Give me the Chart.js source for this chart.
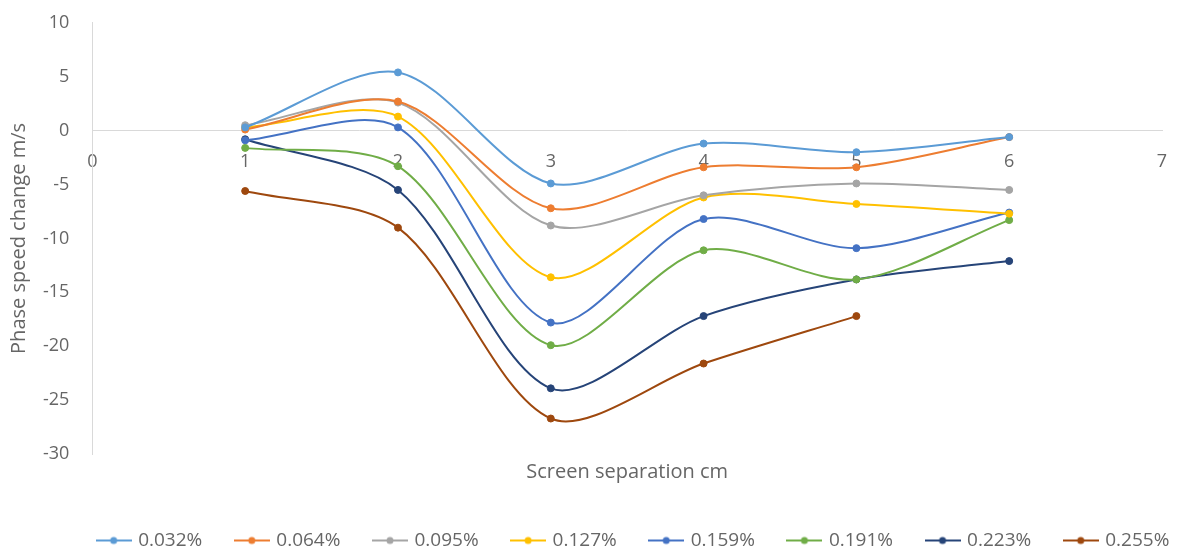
<!DOCTYPE html>
<html>
<head>
    <title>Phase speed change vs screen separation</title>
    <script src="https://cdn.jsdelivr.net/npm/chart.js"></script>
    <style>
        html, body {
            margin: 0;
            padding: 0;
            background: #fff;
        }
        canvas {
            display: block;
        }
    </style>
</head>
<body>
    <canvas id="chart" width="1179" height="554"></canvas>

    <script>
        // Screen separation (cm)
        const separations = [1, 2, 3, 4, 5, 6];

        // Phase speed change (m/s) per concentration
        const seriesNames = ['0.032%', '0.064%', '0.095%', '0.127%', '0.159%', '0.191%', '0.223%', '0.255%'];
        const s032 = [0.3, 5.4, -4.9, -1.2, -2.0, -0.6];
        const s064 = [0.1, 2.7, -7.2, -3.4, -3.4, -0.6];
        const s095 = [0.5, 2.6, -8.8, -6.0, -4.9, -5.5];
        const s127 = [0.3, 1.3, -13.6, -6.2, -6.8, -7.7];
        const s159 = [-0.9, 0.3, -17.8, -8.2, -10.9, -7.6];
        const s191 = [-1.6, -3.3, -19.9, -11.1, -13.8, -8.3];
        const s223 = [-0.8, -5.5, -23.9, -17.2, -13.8, -12.1];
        const s255 = [-5.6, -9.0, -26.7, -21.6, -17.2];

        const yTicks = [-30, -25, -20, -15, -10, -5, 0, 5, 10];
        const xTicks = [0, 1, 2, 3, 4, 5, 6, 7];

        const colors = ['#5B9BD5', '#ED7D31', '#A5A5A5', '#FFC000', '#4472C4', '#70AD47', '#264478', '#9E480E'];
        const allSeries = [s032, s064, s095, s127, s159, s191, s223, s255];
        const textColor = '#666666';
        const fontFamily = '"Open Sans", sans-serif';

        // legend marker: short line with a dot in the middle
        function legendMarker(color) {
            const c = document.createElement('canvas');
            c.width = 36;
            c.height = 10;
            const g = c.getContext('2d');
            g.strokeStyle = color;
            g.lineWidth = 2;
            g.beginPath();
            g.moveTo(0, 5);
            g.lineTo(36, 5);
            g.stroke();
            g.fillStyle = color;
            g.beginPath();
            g.arc(18, 5, 3.5, 0, Math.PI * 2);
            g.fill();
            return c;
        }

        const datasets = allSeries.map((vals, i) => ({
            label: seriesNames[i],
            data: vals.map((v, j) => ({ x: separations[j], y: v })),
            borderColor: colors[i],
            backgroundColor: colors[i],
            pointBackgroundColor: colors[i],
            pointBorderColor: colors[i],
            pointRadius: 3.5,
            pointBorderWidth: 1,
            borderWidth: 2,
            tension: 0.3,
            fill: false
        }));

        // Legend sits a little right of centre in the original
        const shiftLegend = {
            id: 'shiftLegend',
            afterLayout(chart) {
                const l = chart.legend;
                l.left += 50;
                l.right += 50;
            }
        };

        const ctx = document.getElementById('chart').getContext('2d');
        new Chart(ctx, {
            type: 'line',
            data: { datasets: datasets },
            plugins: [shiftLegend],
            options: {
                responsive: false,
                animation: false,
                layout: {
                    padding: { top: 16, right: 17, bottom: -6, left: 6 }
                },
                plugins: {
                    legend: {
                        position: 'bottom',
                        labels: {
                            usePointStyle: true,
                            pointStyleWidth: 30,
                            padding: 34.5,
                            color: textColor,
                            font: { family: fontFamily, size: 19 },
                            generateLabels: chart => chart.data.datasets.map((ds, i) => ({
                                text: ds.label,
                                fontColor: textColor,
                                pointStyle: legendMarker(colors[i]),
                                datasetIndex: i,
                                hidden: false,
                                lineWidth: 0
                            }))
                        }
                    },
                    tooltip: { enabled: false }
                },
                scales: {
                    x: {
                        type: 'linear',
                        position: { y: 0 },
                        min: 0,
                        max: 7,
                        afterBuildTicks: axis => { axis.ticks = xTicks.map(v => ({ value: v })); },
                        grid: { display: false, drawTicks: true, tickLength: 17 },
                        border: { display: true, color: '#d9d9d9', width: 1 },
                        ticks: {
                            padding: 3,
                            color: textColor,
                            font: { family: fontFamily, size: 18 }
                        }
                    },
                    x2: {
                        type: 'linear',
                        axis: 'x',
                        position: 'bottom',
                        min: 0,
                        max: 7,
                        grid: { display: false, drawTicks: false },
                        border: { display: false },
                        ticks: { display: false },
                        title: {
                            display: true,
                            text: 'Screen separation cm',
                            color: textColor,
                            font: { family: fontFamily, size: 20 },
                            padding: { top: 6, bottom: 12.4 }
                        }
                    },
                    y: {
                        min: -30,
                        max: 10,
                        afterBuildTicks: axis => { axis.ticks = yTicks.map(v => ({ value: v })); },
                        grid: { display: false, drawTicks: true, tickLength: 11 },
                        border: { display: true, color: '#d9d9d9', width: 1 },
                        ticks: {
                            padding: 12,
                            color: textColor,
                            font: { family: fontFamily, size: 18 }
                        },
                        title: {
                            display: true,
                            text: 'Phase speed change m/s',
                            color: textColor,
                            font: { family: fontFamily, size: 20 },
                            padding: { top: 1, bottom: 0 }
                        }
                    }
                }
            }
        });
    </script>
</body>
</html>
